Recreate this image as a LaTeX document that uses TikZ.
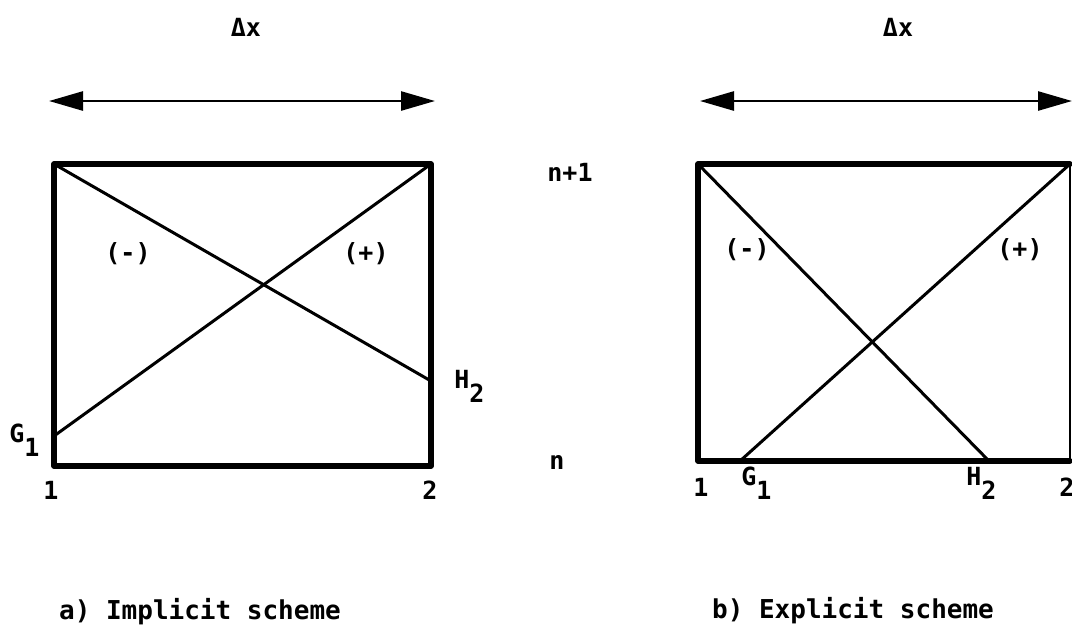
\documentclass[tikz,border=0pt]{standalone}
\usepackage{fontspec}
\setmainfont{DejaVu Sans Mono}
\usetikzlibrary{arrows.meta}
\newcommand{\lowsub}[1]{\raisebox{-7pt}{#1}}
\tikzset{
  boxline/.style={line width=2.6pt, line cap=round, line join=round},
  thinedge/.style={line width=1.1pt},
  diag/.style={line width=1.5pt},
  dimarrow/.style={line width=1.3pt, {Triangle[length=17pt,width=9.5pt]}-{Triangle[length=17pt,width=9.5pt]}},
  lbl/.style={font=\fontsize{12.5}{14}\selectfont\bfseries, inner sep=0pt},
  captext/.style={font=\fontsize{13}{15}\selectfont\bfseries, inner sep=0pt}
}
\begin{document}
\begin{tikzpicture}[x=0.5pt,y=-0.5pt]
\useasboundingbox (0,0) rectangle (1072,629);
% ---------- left: implicit ----------
\coordinate (a1) at (54,164);
\coordinate (a2) at (431,164);
\coordinate (a3) at (431,466);
\coordinate (a4) at (54,466);
\coordinate (aG) at (54,436);
\coordinate (aH) at (431,381);
\coordinate (aL) at (49,101);
\coordinate (aR) at (435,101);
\node[lbl] (adx) at (246,27) {Δx};
\draw[dimarrow] (aL) -- (aR);
\draw[boxline] (a1) -- (a2) -- (a3) -- (a4) -- cycle;
\draw[diag] (a1) -- (aH);
\draw[diag] (aG) -- (a2);
\node[lbl] (aminus) at (128,254) {(-)};
\node[lbl] (aplus) at (366,254) {(+)};
\node[lbl, anchor=base west] (aGl) at (9,442) {G\lowsub{1}};
\node[lbl, anchor=base west] (aHl) at (454,388) {H\lowsub{2}};
\node[lbl] (a1l) at (51,490) {1};
\node[lbl] (a2l) at (430,490) {2};
\node[captext] (acap) at (200,612) {a) Implicit scheme};
% ---------- middle labels ----------
\node[lbl] (np1) at (570,172) {n+1};
\node[lbl] (nn) at (557,462) {n};
% ---------- right: explicit ----------
\coordinate (b1) at (698,164);
\coordinate (b2) at (1070,164);
\coordinate (b3) at (1070,461);
\coordinate (b4) at (698,461);
\coordinate (bG) at (740,461);
\coordinate (bH) at (989,461);
\coordinate (bL) at (700,101);
\coordinate (bR) at (1072,101);
\node[lbl] (bdx) at (898,27) {Δx};
\draw[dimarrow] (bL) -- (bR);
\draw[boxline] (b3) -- (b4) -- (b1) -- (b2);
\draw[thinedge] (b2) -- (b3);
\draw[diag] (b1) -- (bH);
\draw[diag] (bG) -- (b2);
\node[lbl] (bminus) at (747,250) {(-)};
\node[lbl] (bplus) at (1020,250) {(+)};
\node[lbl] (b1l) at (701,487) {1};
\node[lbl, anchor=base west] (bGl) at (741,485) {G\lowsub{1}};
\node[lbl, anchor=base west] (bHl) at (966,485) {H\lowsub{2}};
\node[lbl] (b2l) at (1067,487) {2};
\node[captext] (bcap) at (853,611) {b) Explicit scheme};
\end{tikzpicture}
\end{document}
